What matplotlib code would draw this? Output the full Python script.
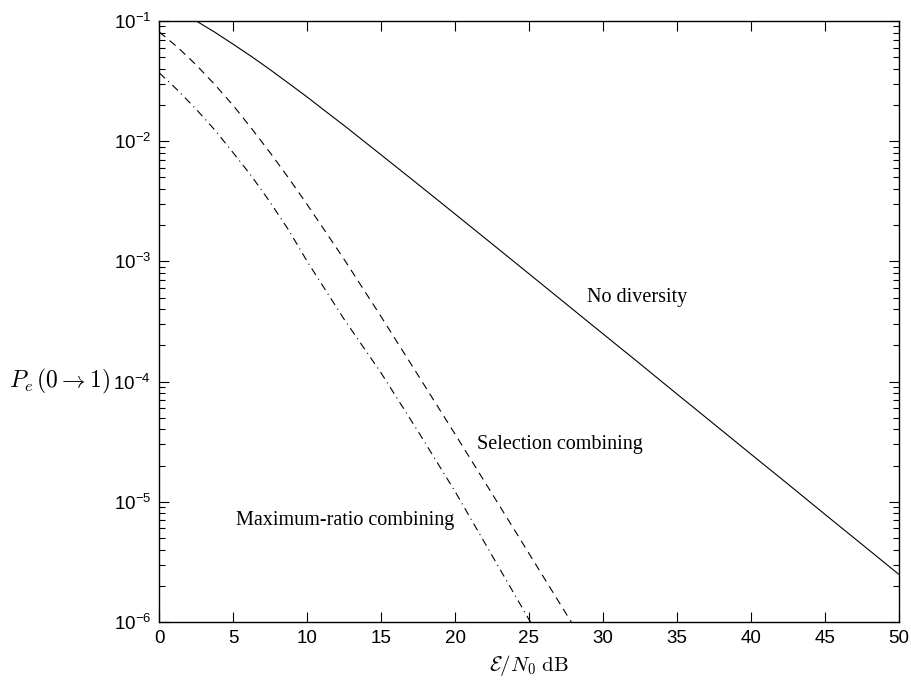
import matplotlib
matplotlib.use("Agg")
import matplotlib.pyplot as plt
from matplotlib.ticker import LogLocator, NullFormatter

plt.rcParams['font.family'] = ['Liberation Sans', 'DejaVu Sans']
plt.rcParams['mathtext.fontset'] = 'custom'
plt.rcParams['mathtext.rm'] = 'Liberation Sans'
plt.rcParams['mathtext.it'] = 'Liberation Sans:italic'

# E/N0 in dB and error probabilities for each receiver
snr_none = [2.5, 3.75, 5, 6.25, 7.5, 8.75, 10, 11.25, 12.5, 15, 17.5, 20,
            22.5, 25, 27.5, 30, 32.5, 35, 37.5, 40, 42.5, 45, 47.5, 50]
pe_none = [0.1, 0.0807, 0.064, 0.0505, 0.0393, 0.0303, 0.0233, 0.0177,
           0.0135, 0.0077, 0.00438, 0.00248, 1.40e-3, 7.89e-4, 4.44e-4,
           2.50e-4, 1.41e-4, 7.9e-5, 4.45e-5, 2.50e-5, 1.41e-5, 7.9e-6,
           4.45e-6, 2.5e-6]

snr_sel = [0, 1.25, 2.5, 3.75, 5, 6.25, 7.5, 8.75, 10, 12.5, 15, 17.5, 20,
           22.5, 25, 27.5, 30]
pe_sel = [0.081, 0.0603, 0.043, 0.0296, 0.0198, 0.0127, 0.0080, 0.00493,
          0.00297, 1.04e-3, 3.47e-4, 1.13e-4, 3.66e-5, 1.17e-5, 3.72e-6,
          1.18e-6, 3.75e-7]

snr_mrc = [0, 1.25, 2.5, 3.75, 5, 6.25, 7.5, 8.75, 10, 12.5, 15, 17.5, 20,
           22.5, 25, 27.5]
pe_mrc = [0.037, 0.0265, 0.0184, 0.0124, 0.0080, 0.0051, 0.0031, 0.00182,
          1.0e-3, 3.3e-4, 1.18e-4, 3.85e-5, 1.22e-5, 3.58e-6, 1.05e-6,
          3.2e-7]

fig = plt.figure(figsize=(9.11, 6.84), dpi=100)
ax = fig.add_axes([0.1749, 0.0906, 0.8115, 0.8787])

ax.semilogy(snr_none, pe_none, color='black', lw=0.8)
ax.semilogy(snr_sel, pe_sel, color='black', lw=0.8, linestyle=(0, (7, 5)))
ax.semilogy(snr_mrc, pe_mrc, color='black', lw=0.8,
            linestyle=(0, (7, 4, 1, 4)))

ax.set_xlim(0, 50)
ax.set_ylim(1e-6, 1e-1)
ax.set_xticks(range(0, 51, 5))
ax.yaxis.set_major_locator(LogLocator(base=10, numticks=10))
ax.yaxis.set_minor_locator(LogLocator(base=10, subs=range(2, 10), numticks=20))
ax.yaxis.set_minor_formatter(NullFormatter())

ax.tick_params(which='both', direction='in', top=True, right=True,
               labelsize=13.5, width=0.8, pad=6)
ax.tick_params(which='major', length=7)
ax.tick_params(which='minor', length=4)
for sp in ax.spines.values():
    sp.set_linewidth(1.0)

serif = ['Liberation Serif', 'DejaVu Serif']
ax.set_xlabel(r'$\mathcal{E}/N_0\ \mathrm{dB}$', fontsize=15,
              math_fontfamily='cm', labelpad=4)
ax.set_ylabel(r'$P_e\,(0 \rightarrow 1)$', fontsize=17,
              math_fontfamily='cm', rotation=0, ha='center', va='center')
ax.yaxis.set_label_coords(-0.135, 0.40)

ax.text(28.9, 5.0e-4, 'No diversity', family=serif, fontsize=14.5,
        va='center', ha='left')
ax.text(21.5, 3.0e-5, 'Selection combining', family=serif, fontsize=14.5,
        va='center', ha='left')
ax.text(5.2, 7.0e-6, 'Maximum-ratio combining', family=serif, fontsize=14.5,
        va='center', ha='left')

fig.savefig('out.png', dpi=100)
